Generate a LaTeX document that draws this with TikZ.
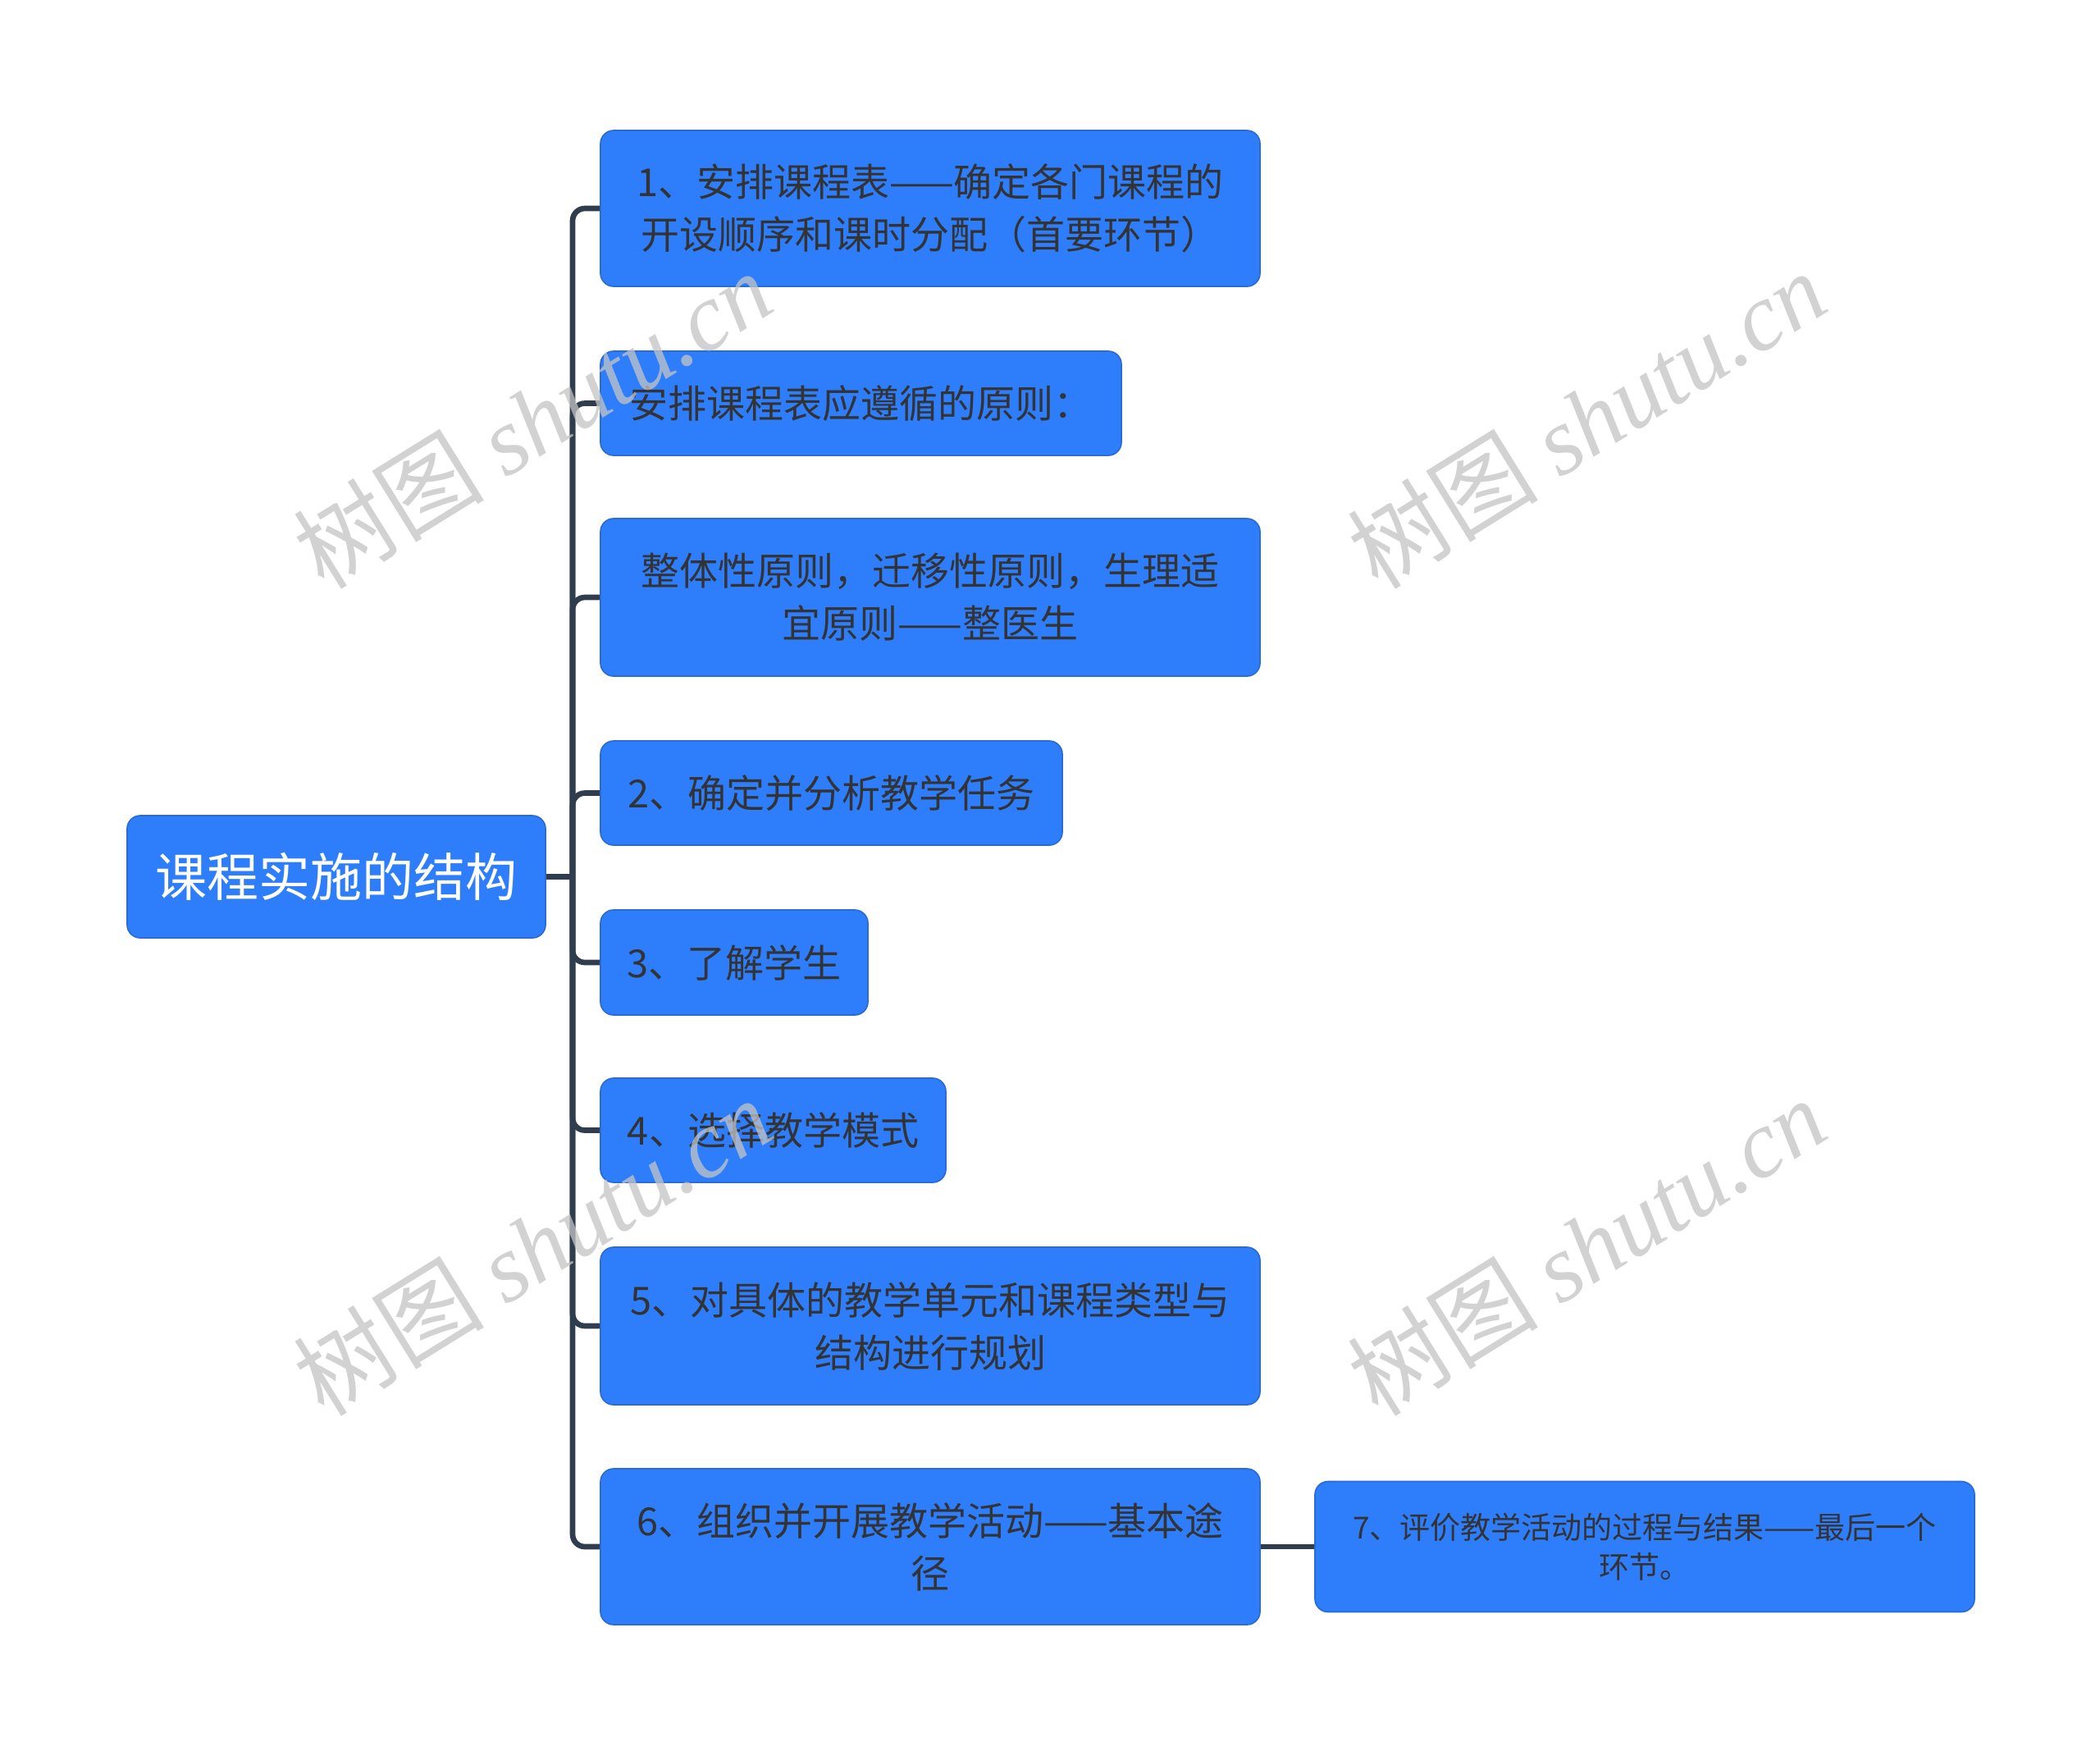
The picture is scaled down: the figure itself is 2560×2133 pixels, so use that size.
\documentclass[tikz,border=0pt]{standalone}
\usepackage{fontspec}
\newfontfamily\cjk{Noto Sans CJK SC}
\newfontfamily\wmserif{Liberation Serif}
\definecolor{boxblue}{HTML}{2E7DFA}
\definecolor{boxedge}{HTML}{2A6BD6}
\definecolor{linecol}{HTML}{2F3D4F}
\definecolor{txt}{HTML}{333333}
\definecolor{wm}{HTML}{C4C4C4}
\tikzset{
  box/.style={rectangle, rounded corners=4.8pt, fill=boxblue, draw=boxedge, line width=0.5pt,
    inner sep=0pt, align=center, text=txt, font=\cjk\fontsize{14.1}{19.2}\selectfont},
  rootbox/.style={box, text=white, font=\cjk\fontsize{18.9}{24}\selectfont},
  smallbox/.style={box, font=\cjk\fontsize{11.1}{14.3}\selectfont},
  conn/.style={draw=linecol, line width=2pt, rounded corners=4.5pt},
  wmark/.style={text=wm, opacity=0.75, rotate=31.8, font=\fontsize{35}{35}\selectfont, inner sep=0pt}
}
\begin{document}
\begin{tikzpicture}[x=0.3pt,y=-0.3pt]
\useasboundingbox (0,0) rectangle (2560,2133);
\fill[white] (0,0) rectangle (2560,2133);

\node[rootbox, minimum width=153pt, minimum height=44.7pt] (root) at (410,1068.5) {课程实施的结构};

\node[box, minimum width=241.2pt, minimum height=57pt] (b1) at (1134,254)
  {1、安排课程表——确定各门课程的\\开设顺序和课时分配（首要环节）};
\node[box, minimum width=190.5pt, minimum height=38.1pt] (b2) at (1049.5,491.5)
  {安排课程表应遵循的原则：};
\node[box, minimum width=241.2pt, minimum height=57.6pt] (b3) at (1134,728)
  {整体性原则，迁移性原则，生理适\\宜原则——整医生};
\node[box, minimum width=168.9pt, minimum height=38.1pt] (b4) at (1013.5,966.5)
  {2、确定并分析教学任务};
\node[box, minimum width=97.8pt, minimum height=38.4pt] (b5) at (895,1173)
  {3、了解学生};
\node[box, minimum width=126.3pt, minimum height=38.1pt] (b6) at (942.5,1377.5)
  {4、选择教学模式};
\node[box, minimum width=241.2pt, minimum height=57.6pt] (b7) at (1134,1616)
  {5、对具体的教学单元和课程类型与\\结构进行规划};
\node[box, minimum width=241.2pt, minimum height=57pt] (b8) at (1134,1885)
  {6、组织并开展教学活动——基本途\\径};
\node[smallbox, minimum width=241.2pt, minimum height=47.7pt] (b9) at (2005,1885)
  {7、评价教学活动的过程与结果——最后一个\\环节。};

\coordinate (j) at (698,1068.5);
\draw[conn] (root.east) -- (j);
\foreach \n in {b1,b2,b3,b4,b5,b6,b7,b8}{
  \draw[conn] (j) |- (\n.west);
}
\draw[conn] (b8.east) -- (b9.west);

\node[wmark] (w1) at (649,511) {\cjk 树图 \wmserif\itshape shutu.cn};
\node[wmark] (w2) at (1934,511) {\cjk 树图 \wmserif\itshape shutu.cn};
\node[wmark] (w3) at (649,1519) {\cjk 树图 \wmserif\itshape shutu.cn};
\node[wmark] (w4) at (1934,1519) {\cjk 树图 \wmserif\itshape shutu.cn};
\end{tikzpicture}
\end{document}
